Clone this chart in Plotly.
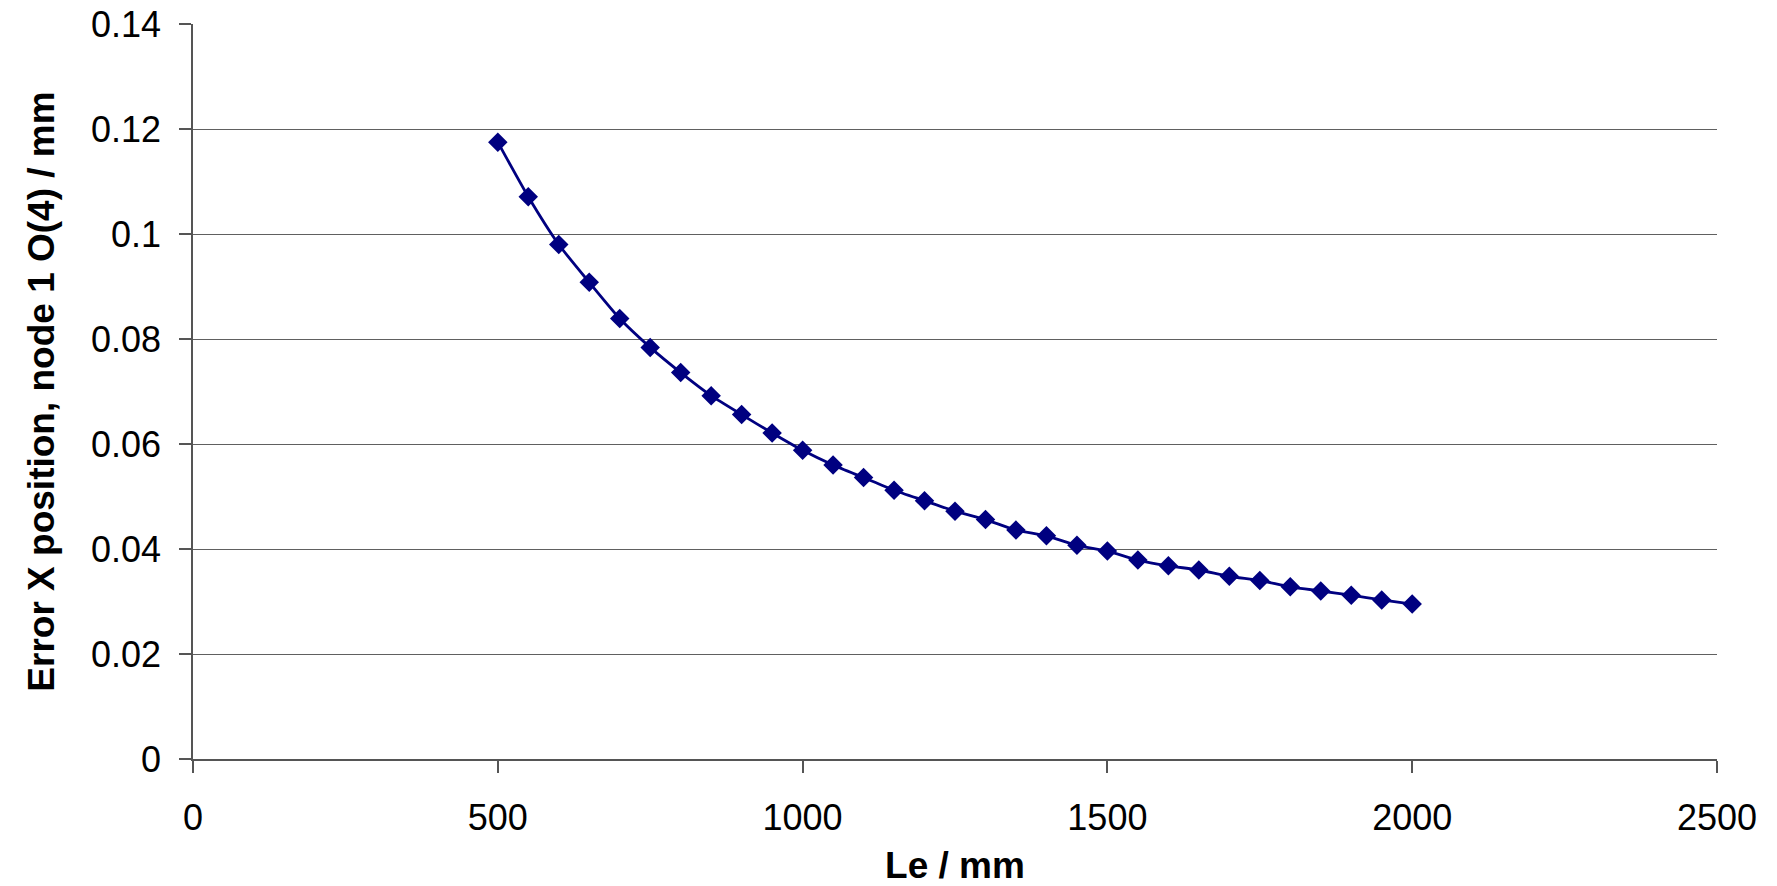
import plotly.graph_objects as go

le_mm = [500, 550, 600, 650, 700, 750, 800, 850, 900, 950, 1000, 1050, 1100, 1150,
         1200, 1250, 1300, 1350, 1400, 1450, 1500, 1550, 1600, 1650, 1700, 1750,
         1800, 1850, 1900, 1950, 2000]
error_x = [0.1175, 0.1071, 0.0980, 0.0908, 0.0839, 0.0784, 0.0736, 0.0692, 0.0656,
           0.0621, 0.0588, 0.0560, 0.0536, 0.0512, 0.0492, 0.0472, 0.0456, 0.0436,
           0.0425, 0.0407, 0.0396, 0.0379, 0.0368, 0.0360, 0.0348, 0.0340, 0.0328,
           0.0320, 0.0312, 0.0303, 0.0295]

x_ticks = [0, 500, 1000, 1500, 2000, 2500]
y_ticks = [0, 0.02, 0.04, 0.06, 0.08, 0.1, 0.12, 0.14]
y_tick_labels = ["0", "0.02", "0.04", "0.06", "0.08", "0.1", "0.12", "0.14"]

FONT = "Liberation Sans, Arial, sans-serif"
NAVY = "#000080"
AXIS = "#555555"

fig = go.Figure()
fig.add_trace(go.Scatter(
    x=le_mm, y=error_x, mode="lines+markers",
    line=dict(color=NAVY, width=2.8, shape="spline", smoothing=0.6),
    marker=dict(symbol="diamond", size=15, color=NAVY),
    showlegend=False,
))

fig.update_layout(
    width=1777, height=886,
    margin=dict(l=193, r=60, t=24, b=127),
    plot_bgcolor="white", paper_bgcolor="white",
    font=dict(family=FONT, size=36, color="black"),
    xaxis=dict(
        range=[0, 2500], tickvals=x_ticks, ticktext=[str(v) for v in x_ticks],
        showgrid=False, zeroline=False, automargin=False,
        showline=True, linecolor=AXIS, linewidth=1.5,
        ticks="outside", ticklen=12, tickcolor=AXIS, tickwidth=1.5,
        ticklabelstandoff=14,
        tickfont=dict(size=36),
        title=dict(text="<b>Le / mm</b>", font=dict(size=37), standoff=25),
    ),
    yaxis=dict(
        range=[0, 0.14], tickvals=y_ticks, ticktext=y_tick_labels,
        showgrid=True, gridcolor="#606060", gridwidth=1.2, zeroline=False, automargin=False,
        showline=True, linecolor=AXIS, linewidth=1.5,
        ticks="outside", ticklen=12, tickcolor=AXIS, tickwidth=1.5,
        ticklabelstandoff=11,
        tickfont=dict(size=36),
        title=dict(text="<b>Error X position, node 1 O(4) / mm</b>", font=dict(size=37), standoff=25),
    ),
)

fig.write_html("out.html")
